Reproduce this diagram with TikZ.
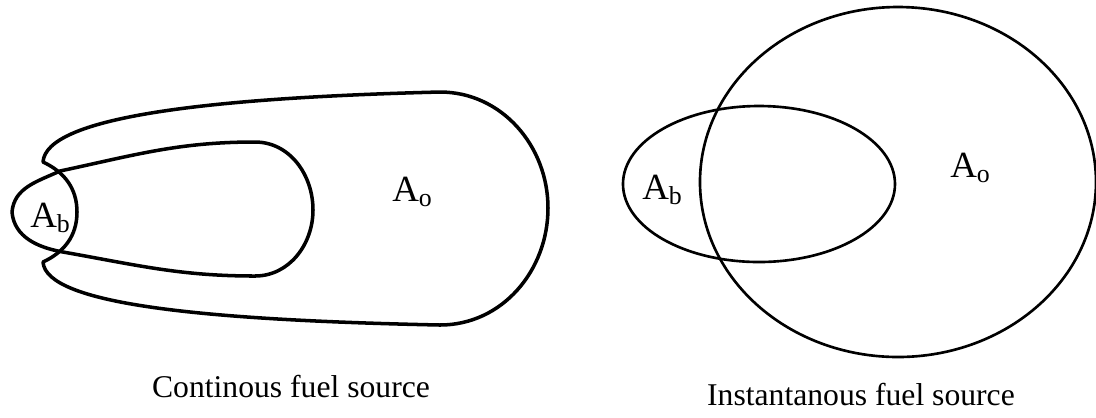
\documentclass[tikz,border=0pt]{standalone}
\usepackage{fontspec}
\setmainfont{Liberation Serif}
\usepackage{tikz}
\tikzset{
    contour/.style={line width=1pt, line join=round},
    blob/.style={line width=0.75pt},
    arealabel/.style={inner sep=0pt, font=\fontsize{10.5}{12}\selectfont},
    srccaption/.style={inner sep=0pt, anchor=base, font=\fontsize{9}{11}\selectfont}
}

\begin{document}
\begin{tikzpicture}[x=0.01cm, y=-0.01cm]

    \useasboundingbox (0,0) rectangle (1096,417);

    % Fuente continua: envolvente exterior
    \draw[contour]
        (43,162) .. controls (46,118) and (200,98) .. (440,92)
                 to[out=0,in=90] (548,208)
                 to[out=-90,in=0] (440,325)
                 .. controls (200,320) and (46,304) .. (43,262)
                 to[out=25,in=-90] (77,212)
                 to[out=90,in=-25] (43,162) -- cycle;

    % Fuente continua: zona interior
    \draw[contour]
        (12,212) to[out=85,in=205] (60,171)
                 to[out=12,in=180] (255,142)
                 to[out=0,in=90] (313,210)
                 to[out=-90,in=0] (255,276)
                 to[out=180,in=-10] (63,252)
                 to[out=170,in=-85] (12,212) -- cycle;

    % Fuente instantanea
    \draw[blob] (898,182) ellipse [x radius=198, y radius=175];
    \draw[blob] (759,184) ellipse [x radius=136, y radius=78];

    % Etiquetas
    \node[arealabel] (ab1) at (51,218)  {A\textsubscript{b}};
    \node[arealabel] (ao1) at (413,192) {A\textsubscript{o}};
    \node[arealabel] (ab2) at (663,190) {A\textsubscript{b}};
    \node[arealabel] (ao2) at (971,168) {A\textsubscript{o}};

    \node[srccaption] (cont) at (291,397) {Continous fuel source};
    \node[srccaption] (inst) at (861,405) {Instantanous fuel source};

\end{tikzpicture}
\end{document}
